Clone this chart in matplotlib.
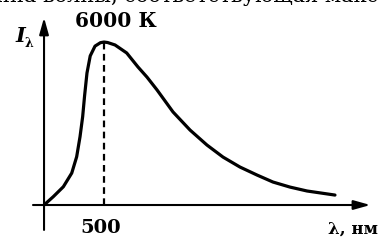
import numpy as np
import matplotlib.pyplot as plt

# Spectral curve (wavelength in nm, intensity relative to peak)
wavelength = [0, 77, 161, 231, 272, 300, 322, 338, 358, 385, 425, 470, 500, 530,
              592, 689, 783, 858, 942, 1075, 1217, 1358, 1492, 1633, 1775,
              1908, 2050, 2192, 2425]
intensity = [0, 0.051, 0.112, 0.196, 0.296, 0.419, 0.542, 0.670, 0.810, 0.915,
             0.975, 0.996, 1.0, 0.997, 0.982, 0.933, 0.847, 0.785, 0.706, 0.571,
             0.460, 0.368, 0.294, 0.233, 0.184, 0.141, 0.110, 0.086, 0.061]
peak_nm = 500
peak_label = "6000 К"
tick_label = "500"
x_label = "λ, нм"

fig = plt.figure(figsize=(3.79, 2.42), dpi=100)
ax = fig.add_axes([0, 0, 1, 1])
ax.set_xlim(-367, 2792)
ax.set_ylim(-0.227, 1.258)
ax.axis("off")

serif = "DejaVu Serif"

# axes with arrows
arrow = dict(arrowstyle="-|>,head_length=1.0,head_width=0.28",
             color="black", lw=1.5, shrinkA=0, shrinkB=0)
ax.annotate("", xy=(2720, 0), xytext=(-92, 0), arrowprops=arrow)
ax.annotate("", xy=(0, 1.15), xytext=(0, -0.153), arrowprops=arrow)

# curve and dashed line at the maximum
ax.plot(wavelength, intensity, color="black", lw=2.3, solid_capstyle="round",
        solid_joinstyle="round")
ax.plot([peak_nm, peak_nm], [0, 1.0], color="black", lw=1.6, ls=(0, (3, 2)))

# labels
ax.text(475, -0.141, tick_label, fontsize=14, fontweight="bold", family=serif,
        ha="center", va="center")
ax.text(2780, -0.147, x_label, fontsize=12, fontweight="bold", family=serif,
        ha="right", va="center")
ax.text(-200, 1.04, "I", fontsize=15, fontweight="bold", style="italic",
        family=serif, ha="center", va="center")
ax.text(-125, 0.99, "λ", fontsize=9, fontweight="bold", family=serif,
        ha="center", va="center")
ax.text(600, 1.129, peak_label, fontsize=14.5, fontweight="bold", family=serif,
        ha="center", va="center")

# clipped line of book text at the very top
ax.text(-400, 1.245, "ина волны, соответствующая максимуму", fontsize=15,
        family=serif, ha="left", va="baseline", clip_on=False)

fig.savefig("out.png", dpi=100)
